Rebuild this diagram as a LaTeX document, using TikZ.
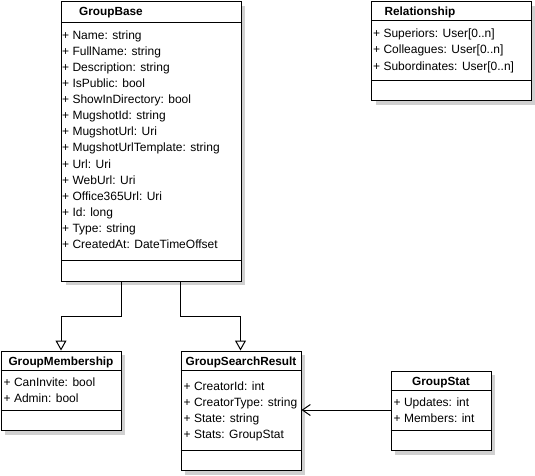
\documentclass[tikz,border=0pt]{standalone}
\usepackage{fontspec}
\setmainfont{Liberation Sans}
\usetikzlibrary{arrows.meta,shadows}
\definecolor{shadowgray}{HTML}{D0D0D0}
\newcommand{\attrfont}{\fontsize{12}{16}\selectfont}
\newcommand{\titlefont}{\fontsize{11.8}{16}\selectfont\bfseries}
\tikzset{
  umlbox/.style={draw=black, line width=1pt, fill=white, inner sep=0pt, anchor=north west,
    drop shadow={shadow xshift=4pt, shadow yshift=-4pt, opacity=1, fill=shadowgray}},
  sepline/.style={line width=1pt},
  attr/.style={font=\attrfont, anchor=base west, inner sep=0pt},
  ctitle/.style={font=\titlefont, anchor=base, inner sep=0pt},
  inh/.style={line width=1pt, -{Triangle[open, length=10pt, width=11pt, fill=white]}},
  assoc/.style={line width=1pt, -{Straight Barb[length=8pt, width=11pt]}},
}
\begin{document}
\begin{tikzpicture}[x=1pt,y=-1pt]
\useasboundingbox (0,0) rectangle (535,475);

% GroupBase
\node[umlbox, minimum width=179.5pt, minimum height=279.5pt] (gb) at (61,1) {};
\draw[sepline] (gb.west |- 0,22) -- (gb.east |- 0,22);
\draw[sepline] (gb.west |- 0,260.5) -- (gb.east |- 0,260.5);
\node[ctitle] (gbt) at (111,15.5) {GroupBase};
\foreach \t [count=\i] in {+ Name: string, + FullName: string, + Description: string,
  + IsPublic: bool, + ShowInDirectory: bool, + MugshotId: string, + MugshotUrl: Uri,
  + MugshotUrlTemplate: string, + Url: Uri, + WebUrl: Uri, + Office365Url: Uri,
  + Id: long, + Type: string, + CreatedAt: DateTimeOffset}
  \node[attr] (gba\i) at (62, {39.4+16.08*(\i-1)}) {\t};

% Relationship
\node[umlbox, minimum width=159.5pt, minimum height=99pt] (rel) at (371,1) {};
\draw[sepline] (rel.west |- 0,20) -- (rel.east |- 0,20);
\draw[sepline] (rel.west |- 0,80) -- (rel.east |- 0,80);
\node[ctitle] (relt) at (420,15.2) {Relationship};
\foreach \t [count=\i] in {+ Superiors: User[0..n], + Colleagues: User[0..n], + Subordinates: User[0..n]}
  \node[attr] (rela\i) at (373, {37.3+16.6*(\i-1)}) {\t};

% GroupMembership
\node[umlbox, minimum width=120pt, minimum height=79.5pt] (gm) at (0.5,350.5) {};
\draw[sepline] (gm.west |- 0,370) -- (gm.east |- 0,370);
\draw[sepline] (gm.west |- 0,410) -- (gm.east |- 0,410);
\node[ctitle] (gmt) at (gm.center |- 0,365.5) {GroupMembership};
\foreach \t [count=\i] in {+ CanInvite: bool, + Admin: bool}
  \node[attr] (gma\i) at (3.5, {386.7+16*(\i-1)}) {\t};

% GroupSearchResult
\node[umlbox, minimum width=120pt, minimum height=119.5pt] (gsr) at (180.5,350.5) {};
\draw[sepline] (gsr.west |- 0,370) -- (gsr.east |- 0,370);
\draw[sepline] (gsr.west |- 0,450) -- (gsr.east |- 0,450);
\node[ctitle] (gsrt) at (gsr.center |- 0,365.5) {GroupSearchResult};
\foreach \t [count=\i] in {+ CreatorId: int, + CreatorType: string, + State: string, + Stats: GroupStat}
  \node[attr] (gsra\i) at (183.5, {390.7+16*(\i-1)}) {\t};

% GroupStat
\node[umlbox, minimum width=100pt, minimum height=79.5pt] (gs) at (390.5,370.5) {};
\draw[sepline] (gs.west |- 0,390.5) -- (gs.east |- 0,390.5);
\draw[sepline] (gs.west |- 0,430.5) -- (gs.east |- 0,430.5);
\node[ctitle] (gst) at (gs.center |- 0,385.5) {GroupStat};
\foreach \t [count=\i] in {+ Updates: int, + Members: int}
  \node[attr] (gsa\i) at (393.5, {406.6+16.3*(\i-1)}) {\t};

% Connectors
\draw[inh] (gb.south -| gm.east) -- ++(0,35) -| (gm.north);
\draw[inh] (gb.south -| gsr.west) -- ++(0,35) -| (gsr.north -| 240.5,0);
\draw[assoc] (gs.west |- 0,410) -- (gsr.east |- 0,410);
\end{tikzpicture}
\end{document}
